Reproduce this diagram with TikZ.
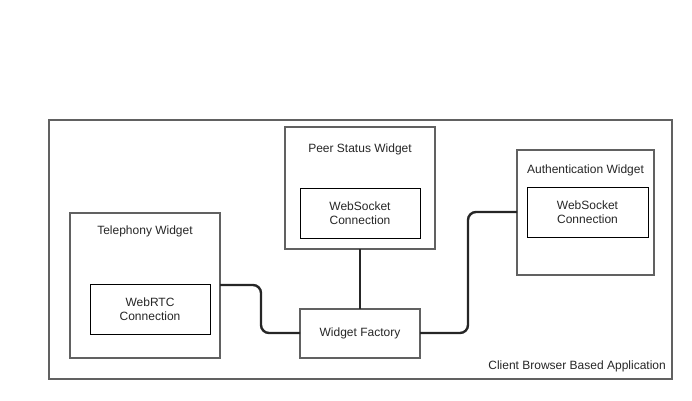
\documentclass[tikz,border=0pt]{standalone}
\usepackage{fontspec}
\setmainfont{Liberation Sans}
\begin{document}
\begin{tikzpicture}[x=1pt,y=-1pt,
  outerbox/.style={draw=black!62,line width=1.5pt},
  widgetbox/.style={draw=black!62,line width=1.5pt},
  innerbox/.style={draw=black,line width=1pt},
  lbl/.style={font=\fontsize{12}{14}\selectfont,text=black!85,align=center,inner sep=0pt},
  wire/.style={draw=black!85,line width=2.4pt,rounded corners=8pt}]
\useasboundingbox (0,0) rectangle (692,400);
% outer container
\draw[outerbox] (49,120) rectangle (672,379);
\node[lbl,anchor=east] (app) at (666,366) {Client Browser Based Application};
% telephony widget
\draw[widgetbox] (70,213) rectangle (220,358);
\coordinate (telR) at (220,285);
\node[lbl] (tel) at (145,231) {Telephony Widget};
\draw[innerbox] (90,284) rectangle (210,334);
\node[lbl] (rtc) at (150,309) {WebRTC\\Connection};
% peer status widget
\draw[widgetbox] (285,127) rectangle (435,249);
\coordinate (peerB) at (360,249);
\node[lbl] (peer) at (360,149) {Peer Status Widget};
\draw[innerbox] (300,188) rectangle (420,238);
\node[lbl] (ws1) at (360,213.5) {WebSocket\\Connection};
% authentication widget
\draw[widgetbox] (517,150) rectangle (654,275);
\coordinate (authL) at (517,212);
\node[lbl] (auth) at (585.5,170) {Authentication Widget};
\draw[innerbox] (527,187) rectangle (648,237);
\node[lbl] (ws2) at (587.5,212.5) {WebSocket\\Connection};
% widget factory
\draw[widgetbox] (300,309) rectangle (420,358);
\coordinate (facL) at (300,333);
\coordinate (facR) at (420,333);
\coordinate (facT) at (360,309);
\node[lbl] (fac) at (360,333.5) {Widget Factory};
% connectors
\draw[wire] (telR) -| (261,333) -- (facL);
\draw[wire] (facR) -| (468,212) -- (authL);
\draw[wire,rounded corners=0pt] (peerB) -- (facT);
\end{tikzpicture}
\end{document}
